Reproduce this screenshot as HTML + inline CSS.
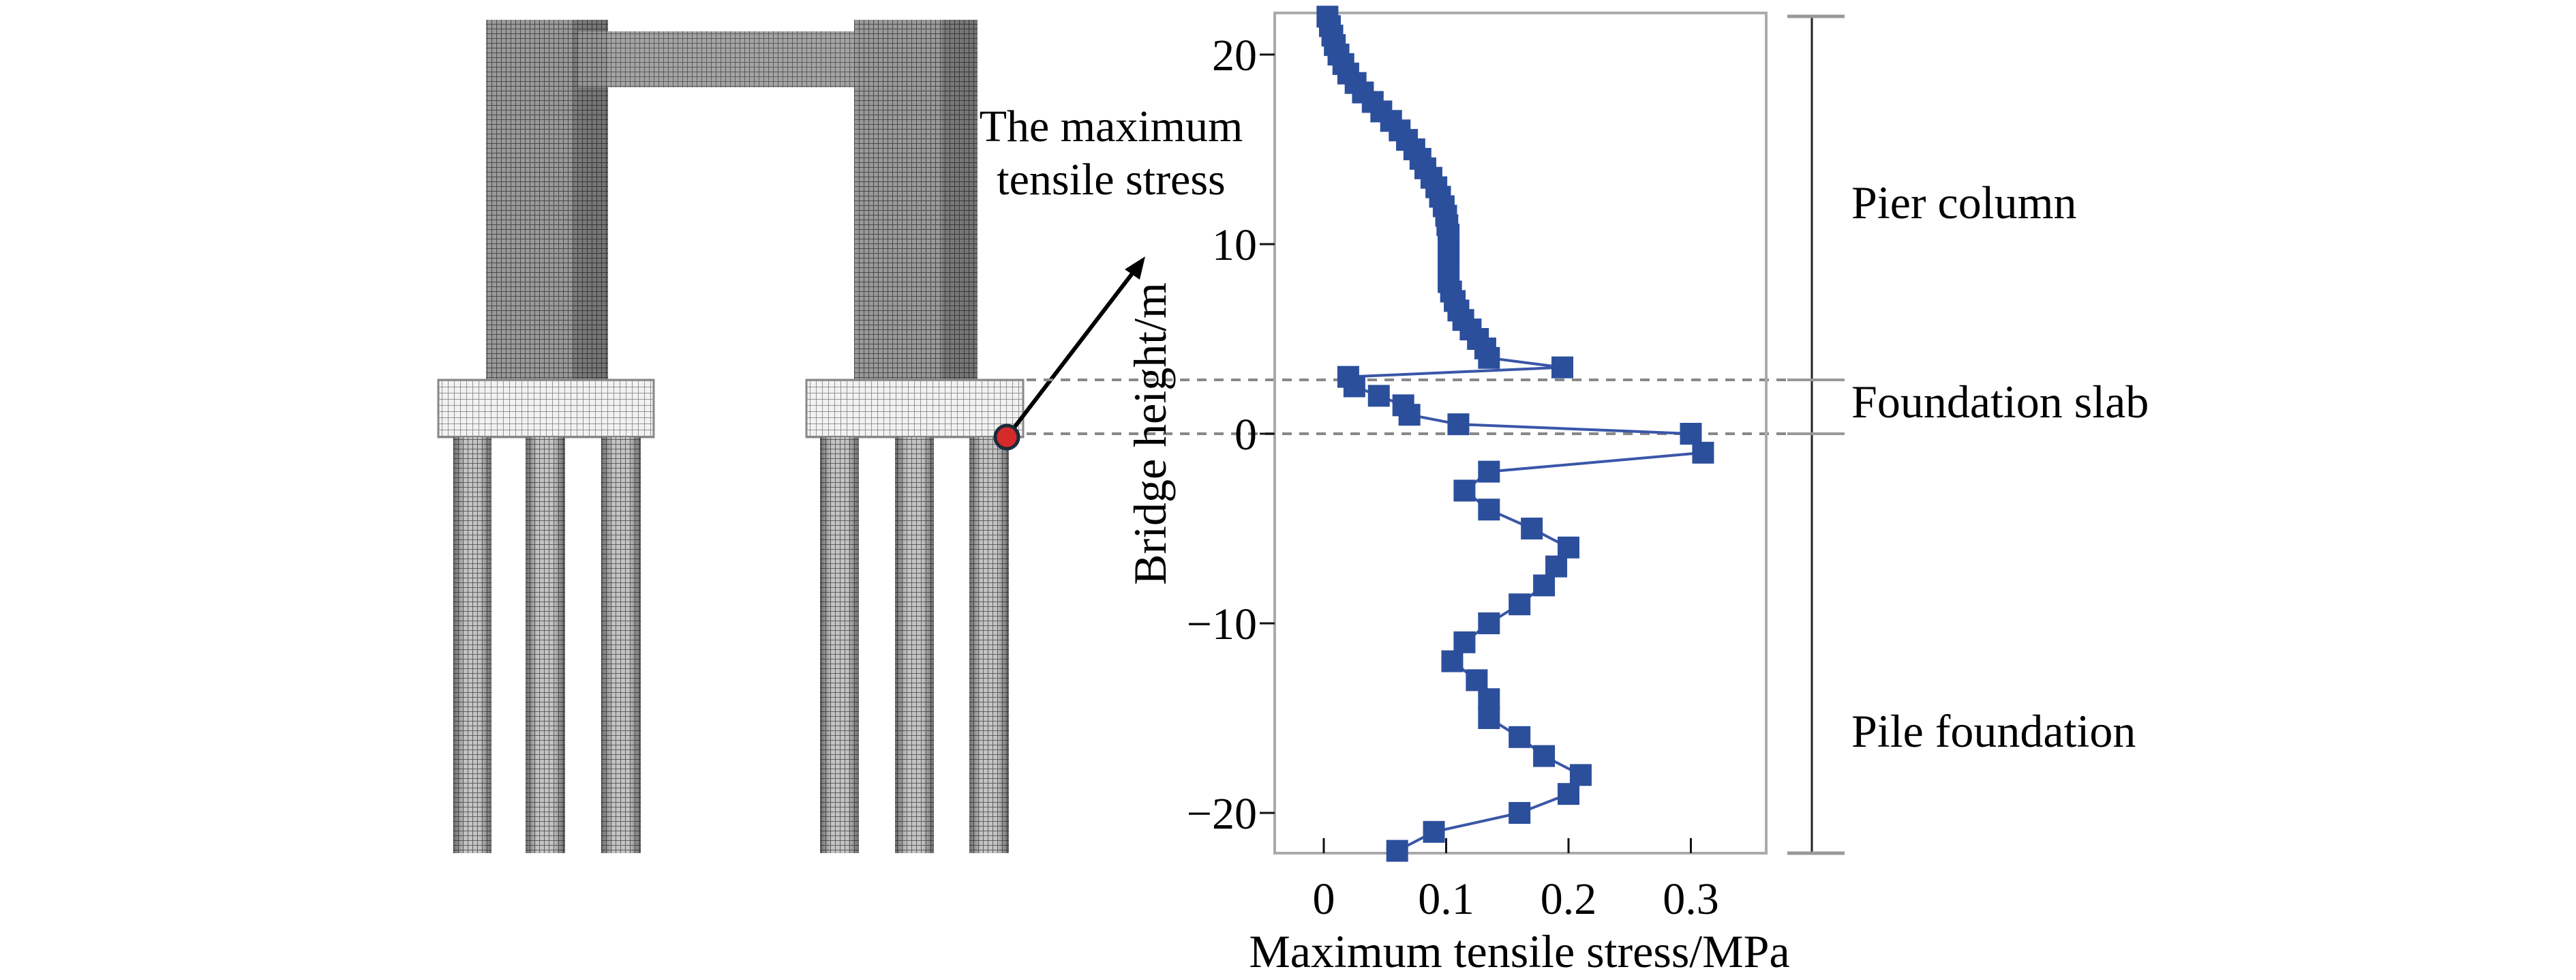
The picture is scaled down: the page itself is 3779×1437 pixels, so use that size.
<!DOCTYPE html>
<html><head><meta charset="utf-8"><style>
html,body{margin:0;padding:0;background:#fff;overflow:hidden;}
svg{display:block;font-family:"Liberation Serif",serif;}
</style></head><body>
<svg id="fig" width="3779" height="1437" viewBox="0 0 3779 1437" xmlns="http://www.w3.org/2000/svg">
<defs>
<pattern id="meshDark" width="7" height="7" patternUnits="userSpaceOnUse">
<rect width="7" height="7" fill="#9a9a9a"/><path d="M0 0H7M0 0V7" stroke="#4a4a4a" stroke-width="2"/></pattern>
<pattern id="meshLight" width="9" height="9" patternUnits="userSpaceOnUse">
<rect width="9" height="9" fill="#f2f2f2"/><path d="M0 0H9M0 0V9" stroke="#777" stroke-width="1.5"/></pattern>
<pattern id="meshPile" width="7" height="7" patternUnits="userSpaceOnUse">
<rect width="7" height="7" fill="#c4c4c4"/><path d="M0 0H7M0 0V7" stroke="#555" stroke-width="1.8"/></pattern>
<linearGradient id="pileShade" x1="0" x2="1"><stop offset="0" stop-color="#000" stop-opacity="0.45"/><stop offset="0.3" stop-color="#000" stop-opacity="0"/><stop offset="0.7" stop-color="#000" stop-opacity="0"/><stop offset="1" stop-color="#000" stop-opacity="0.45"/></linearGradient>
<linearGradient id="colShade" x1="0" x2="1"><stop offset="0" stop-color="#000" stop-opacity="0"/><stop offset="0.7" stop-color="#000" stop-opacity="0"/><stop offset="0.72" stop-color="#000" stop-opacity="0.2"/><stop offset="1" stop-color="#000" stop-opacity="0.25"/></linearGradient>
</defs>
<g>
<rect x="713" y="29" width="179" height="530" fill="url(#meshDark)"/>
<rect x="713" y="29" width="179" height="530" fill="url(#colShade)"/>
<rect x="1253" y="29" width="181" height="530" fill="url(#meshDark)"/>
<rect x="1253" y="29" width="181" height="530" fill="url(#colShade)"/>
<rect x="848" y="46" width="405" height="82" fill="url(#meshDark)" opacity="0.9"/>
<rect x="643" y="557" width="316" height="84" fill="url(#meshLight)" stroke="#888" stroke-width="3"/>
<rect x="1183" y="557" width="318" height="84" fill="url(#meshLight)" stroke="#888" stroke-width="3"/>
<g>
<rect x="665" y="641" width="56" height="610" fill="url(#meshPile)"/><rect x="665" y="641" width="56" height="610" fill="url(#pileShade)"/>
<rect x="771" y="641" width="58" height="610" fill="url(#meshPile)"/><rect x="771" y="641" width="58" height="610" fill="url(#pileShade)"/>
<rect x="882" y="641" width="58" height="610" fill="url(#meshPile)"/><rect x="882" y="641" width="58" height="610" fill="url(#pileShade)"/>
<rect x="1203" y="641" width="57" height="610" fill="url(#meshPile)"/><rect x="1203" y="641" width="57" height="610" fill="url(#pileShade)"/>
<rect x="1313" y="641" width="57" height="610" fill="url(#meshPile)"/><rect x="1313" y="641" width="57" height="610" fill="url(#pileShade)"/>
<rect x="1422" y="641" width="58" height="610" fill="url(#meshPile)"/><rect x="1422" y="641" width="58" height="610" fill="url(#pileShade)"/>
</g>
<line x1="1477" y1="641" x2="1668" y2="392" stroke="#000" stroke-width="6"/>
<polygon points="1680,376 1650,395 1672,410" fill="#000"/>
<circle cx="1477" cy="641" r="17" fill="#d42a2a" stroke="#1c2a3a" stroke-width="5"/>
<text x="1630" y="207" font-size="66" text-anchor="middle">The maximum</text>
<text x="1630" y="285" font-size="66" text-anchor="middle">tensile stress</text>
</g>
<g stroke="#888" stroke-width="4" stroke-dasharray="14 11">
<line x1="1506" y1="557" x2="2700" y2="557"/>
<line x1="1506" y1="636" x2="2700" y2="636"/>
</g>
<g id="chart"></g>
<g stroke="#222" stroke-width="3">
<line x1="2658" y1="24" x2="2658" y2="1251"/>
<line x1="2622" y1="24" x2="2706" y2="24" stroke="#999" stroke-width="5"/>
<line x1="2622" y1="557" x2="2706" y2="557" stroke="#999" stroke-width="4"/>
<line x1="2622" y1="636" x2="2706" y2="636" stroke="#999" stroke-width="4"/>
<line x1="2622" y1="1251" x2="2706" y2="1251" stroke="#999" stroke-width="5"/>
</g>
<text x="2716" y="320" font-size="68">Pier column</text>
<text x="2716" y="612" font-size="68">Foundation slab</text>
<text x="2716" y="1095" font-size="68">Pile foundation</text>
</svg>
<script>
const heights = [22,21.5,21,20.5,20,19.5,19,18.5,18,17.5,17,16.5,16,15.5,15,14.5,14,13.5,13,12.5,12,11.5,11,10.5,10,9.5,9,8.5,8,7.5,7,6.5,6,5.5,5,4.5,4,3.5,3,2.5,2,1.5,1,0.5,0,-1,-2,-3,-4,-5,-6,-7,-8,-9,-10,-11,-12,-13,-14,-15,-16,-17,-18,-19,-20,-21,-22];
const stress = [0.003,0.005,0.007,0.009,0.012,0.016,0.02,0.026,0.032,0.04,0.047,0.055,0.062,0.068,0.074,0.079,0.083,0.088,0.092,0.095,0.098,0.1,0.101,0.102,0.102,0.102,0.102,0.102,0.102,0.104,0.107,0.11,0.114,0.12,0.126,0.132,0.135,0.195,0.02,0.025,0.045,0.065,0.07,0.11,0.3,0.31,0.135,0.115,0.135,0.17,0.2,0.19,0.18,0.16,0.135,0.115,0.105,0.125,0.135,0.135,0.16,0.18,0.21,0.2,0.16,0.09,0.06];
const xTicks = [0,0.1,0.2,0.3];
const xTickLabels = ["0","0.1","0.2","0.3"];
const yTicks = [20,10,0,-10,-20];
const yTickLabels = ["20","10","0","\u221210","\u221220"];

const NS="http://www.w3.org/2000/svg";
const g=document.getElementById('chart');
const X0=1942, XS=1795, Y0=636, YS=27.8;
const L=1870,R=2591,T=19,B=1251;
const sx=v=>X0+v*XS, sy=v=>Y0-v*YS;
function mk(t,a){const e=document.createElementNS(NS,t);for(const k in a)e.setAttribute(k,a[k]);g.appendChild(e);return e;}
const frame=mk('rect',{x:L,y:T,width:R-L,height:B-T,fill:'none',stroke:'#aaa','stroke-width':4});


xTicks.forEach((v,i)=>{
  const t=mk('line',{x1:sx(v),x2:sx(v),y1:B,y2:B-22,stroke:'#111','stroke-width':3});
  
  
  const l=mk('text',{x:sx(v),y:1340,'font-size':66,'text-anchor':'middle'});
  l.textContent=xTickLabels[i];
  
  
});
yTicks.forEach((v,i)=>{
  const t=mk('line',{x1:L-22,x2:L,y1:sy(v),y2:sy(v),stroke:'#111','stroke-width':3});
  
  
  const l=mk('text',{x:L-26,y:sy(v)+23,'font-size':66,'text-anchor':'end'});
  l.textContent=yTickLabels[i];
  
  
});
const xt=mk('text',{x:2229,y:1418,'font-size':68,'text-anchor':'middle'});
xt.textContent='Maximum tensile stress/MPa';


const yt=mk('text',{x:0,y:0,'font-size':68,'text-anchor':'middle',transform:'translate(1710,636) rotate(-90)'});
yt.textContent='Bridge height/m';


const pts=heights.map((h,i)=>sx(stress[i])+','+sy(h)).join(' ');
const line=mk('polyline',{points:pts,fill:'none',stroke:'#3a56a8','stroke-width':4});


heights.forEach((h,i)=>{
  const m=mk('rect',{x:sx(stress[i])-16,y:sy(h)-16,width:32,height:32,fill:'#2c4f9c'});
  
  
});
</script>
</body></html>
